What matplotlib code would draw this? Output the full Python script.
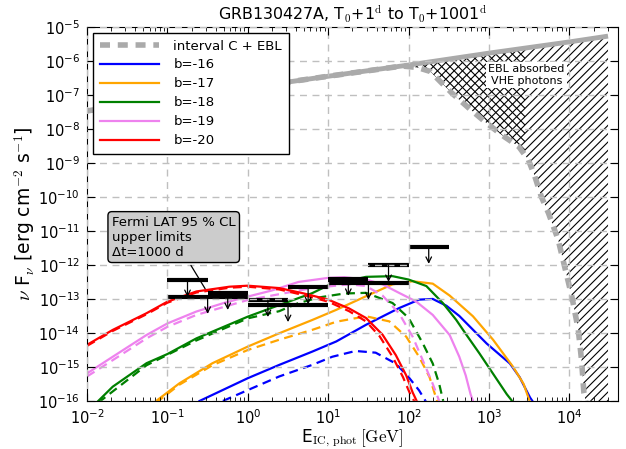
import matplotlib
matplotlib.use('Agg')
import matplotlib.pyplot as plt
import numpy as np
from matplotlib.ticker import LogLocator, NullLocator, NullFormatter
from matplotlib.patches import Rectangle, FancyArrowPatch

plt.rcParams['font.family'] = 'DejaVu Sans'
plt.rcParams['mathtext.fontset'] = 'cm'
plt.rcParams['hatch.linewidth'] = 0.8

# ---- data (log10 E [GeV], log10 nuFnu [erg cm^-2 s^-1]) ----
# interval C (intrinsic) and with EBL absorption
gray_lx = [-2, -1, 0, 1, 2, 3, 4, 4.48]
gray_ly = [-7.47, -7.13, -6.79, -6.45, -6.12, -5.77, -5.44, -5.27]
ebl_lx = [-2, -1, 0, 1, 1.92, 2.105, 2.27, 2.395, 2.54, 2.75, 2.95, 3.16, 3.37,
          3.49, 3.57, 3.65, 3.74, 3.86, 3.94, 4.03, 4.11, 4.15, 4.18, 4.21]
ebl_ly = [-7.47, -7.13, -6.79, -6.45, -6.15, -6.19, -6.31, -6.61, -6.95, -7.39, -7.79,
          -8.18, -8.52, -8.91, -9.40, -9.99, -10.48, -11.26, -12.05, -12.93, -13.91,
          -14.79, -15.77, -16.1]
xhatch_edge = 2.8e3

labels = ['b=-16', 'b=-17', 'b=-18', 'b=-19', 'b=-20']
colors = ['blue', 'orange', 'green', 'violet', 'red']

# solid: intrinsic IC spectrum
sol_lx = [
    [-0.6, 0.0, 0.39, 0.8, 1.1, 1.47, 1.88, 2.13, 2.3, 2.47, 2.63, 2.97, 3.26, 3.38, 3.51, 3.55],
    [-1.14, -0.85, -0.44, 0.0, 0.39, 0.8, 1.1, 1.47, 1.8, 2.05, 2.3, 2.51, 2.8, 3.05, 3.3, 3.43, 3.51],
    [-1.86, -1.68, -1.26, -1.0, -0.64, 0.0, 0.39, 0.8, 1.0, 1.47, 1.8, 2.0, 2.22, 2.425, 2.59,
     2.72, 2.88, 3.05, 3.22, 3.3],
    [-2, -1.68, -1.26, -1.0, -0.64, -0.3, 0.0, 0.3, 0.63, 1.0, 1.2, 1.47, 1.675, 1.88, 2.09,
     2.3, 2.51, 2.63, 2.71, 2.77, 2.8],
    [-2, -1.68, -1.26, -1.0, -0.64, -0.23, 0.0, 0.39, 0.7, 1.0, 1.26, 1.47, 1.675, 1.84, 1.97,
     2.05, 2.11],
]
sol_ly = [
    [-16.0, -15.33, -14.94, -14.55, -14.25, -13.76, -13.27, -13.02, -13.0, -13.2, -13.5, -14.31,
     -14.9, -15.3, -15.9, -16.04],
    [-16.0, -15.48, -14.89, -14.4, -14.01, -13.62, -13.32, -12.92, -12.57, -12.48, -12.55, -12.9,
     -13.51, -14.2, -15.0, -15.5, -16.04],
    [-16.0, -15.58, -14.89, -14.62, -14.16, -13.52, -13.18, -12.83, -12.6, -12.35, -12.33, -12.43,
     -12.62, -13.12, -13.61, -14.06, -14.6, -15.2, -15.8, -16.04],
    [-15.19, -14.70, -14.06, -13.72, -13.37, -13.12, -12.93, -12.75, -12.50, -12.38, -12.36, -12.43,
     -12.57, -12.82, -13.07, -13.47, -14.06, -14.70, -15.25, -15.8, -16.0],
    [-14.35, -13.91, -13.42, -13.08, -12.78, -12.64, -12.61, -12.68, -12.84, -13.02, -13.28, -13.56,
     -14.05, -14.65, -15.25, -15.75, -16.05],
]
# dashed: EBL absorbed
abs_lx = [
    [-0.31, 0.0, 0.39, 0.8, 1.05, 1.34, 1.59, 1.84, 2.0, 2.13, 2.22],
    [-1.14, -0.85, -0.44, 0.0, 0.39, 0.8, 1.1, 1.47, 1.76, 1.97, 2.13, 2.26, 2.34, 2.36],
    [-1.86, -1.26, -0.64, 0.0, 0.39, 0.63, 0.9, 1.2, 1.47, 1.8, 2.0, 2.175, 2.3, 2.38, 2.43],
    [-2, -1.68, -1.26, -1.0, -0.64, 0.0, 0.39, 0.8, 1.26, 1.47, 1.675, 1.88, 2.05, 2.175, 2.3, 2.38],
    [-2, -1.68, -1.26, -1.0, -0.64, -0.23, 0.0, 0.39, 0.7, 1.0, 1.26, 1.47, 1.64, 1.80, 1.93,
     2.02, 2.08],
]
abs_ly = [
    [-16.0, -15.68, -15.28, -14.94, -14.7, -14.53, -14.58, -14.9, -15.3, -15.69, -16.04],
    [-16.05, -15.52, -14.95, -14.5, -14.2, -13.91, -13.67, -13.51, -13.66, -14.11, -14.7, -15.3,
     -15.9, -16.04],
    [-16.05, -14.95, -14.22, -13.57, -13.36, -13.12, -12.95, -12.84, -12.82, -13.12, -13.56, -14.3,
     -14.9, -15.5, -16.0],
    [-15.28, -14.80, -14.16, -13.82, -13.47, -13.03, -12.86, -12.68, -12.57, -12.62, -12.9, -13.42,
     -14.11, -14.8, -15.5, -16.0],
    [-14.38, -13.94, -13.45, -13.11, -12.81, -12.67, -12.64, -12.72, -12.89, -13.08, -13.36, -13.66,
     -14.1, -14.7, -15.3, -15.8, -16.05],
]

# Fermi LAT 95% CL upper limits (energy bins in GeV, flux)
ul_lo = [0.1, 0.1, 0.316, 1, 1, 3.16, 10, 10, 31.6, 100]
ul_hi = [0.316, 1, 1, 3.16, 10, 10, 31.6, 100, 100, 316]
ul_y = [3.6e-13, 1.15e-13, 1.5e-13, 9.3e-14, 6.6e-14, 2.2e-13, 3.9e-13, 3.0e-13, 1.0e-12, 3.4e-12]

fig = plt.figure(figsize=(6.26, 4.49), dpi=100)
ax = fig.add_axes([0.139, 0.107, 0.848, 0.833])
ax.set_xscale('log')
ax.set_yscale('log')

gx = np.power(10.0, gray_lx)
gy = np.power(10.0, gray_ly)
ex = np.power(10.0, ebl_lx)
ey = np.power(10.0, ebl_ly)

# EBL absorbed region
px = np.concatenate([gx, [gx[-1]], ex[::-1]])
py = np.concatenate([gy, [ey[-1]], ey[::-1]])
ax.fill(px, py, facecolor='none', edgecolor='k', hatch='////', linewidth=0, zorder=1)
cross = ax.fill(px, py, facecolor='none', edgecolor='k', hatch='\\\\\\\\', linewidth=0, zorder=1)[0]
clip = Rectangle((1e-3, 1e-20), xhatch_edge - 1e-3, 1.0, transform=ax.transData)
cross.set_clip_path(clip)

ax.plot(gx, gy, color='#aaaaaa', lw=3.5, solid_capstyle='butt', zorder=2)
ax.plot(ex, ey, color='#aaaaaa', lw=4, dashes=(1.8, 1.4), zorder=2,
        label='interval C + EBL')

for i in range(len(labels)):
    ax.plot(np.power(10.0, sol_lx[i]), np.power(10.0, sol_ly[i]), color=colors[i], lw=1.6,
            label=labels[i])
    ax.plot(np.power(10.0, abs_lx[i]), np.power(10.0, abs_ly[i]), color=colors[i], lw=1.6,
            dashes=(4, 2.5))

ax.hlines(ul_y, ul_lo, ul_hi, colors='k', lw=3, zorder=2)
for lo, hi, y in zip(ul_lo, ul_hi, ul_y):
    xc = np.sqrt(lo * hi)
    ax.add_patch(FancyArrowPatch((xc, y), (xc, y / 10**0.5), arrowstyle='->', color='k',
                                 lw=0.9, shrinkA=0, shrinkB=0, mutation_scale=10, zorder=3))

ax.annotate('Fermi LAT 95 % CL\nupper limits\nΔt=1000 d', xy=(0.307, 1.7e-13),
            xytext=(0.0204, 6.6e-12), ha='left', va='center', fontsize=9.5,
            bbox=dict(boxstyle='round,pad=0.3', fc='0.8', ec='k'),
            arrowprops=dict(arrowstyle='-', color='k', lw=0.9))

ax.text(2900, 3.9e-7, 'EBL absorbed\nVHE photons', ha='center', va='center', fontsize=8,
        multialignment='center', bbox=dict(fc='white', ec='none', pad=1.5), zorder=4)

ax.set_xlim(1e-2, 4e4)
ax.set_ylim(1e-16, 1e-5)
ax.xaxis.set_major_locator(LogLocator(base=10, numticks=20))
ax.xaxis.set_minor_locator(LogLocator(base=10, subs=np.arange(2, 10), numticks=20))
ax.xaxis.set_minor_formatter(NullFormatter())
ax.yaxis.set_major_locator(LogLocator(base=10, numticks=20))
ax.yaxis.set_minor_locator(NullLocator())
ax.tick_params(which='both', direction='in', top=True, right=True, labelsize=10.5)
ax.tick_params(which='major', length=6, pad=5)
ax.tick_params(which='minor', length=3)
ax.set_axisbelow(False)
ax.grid(True, which='major', color='0.75', lw=1, linestyle=(0, (5, 4)))

ax.set_title(r'GRB130427A, T$_0$+1$^{\rm d}$ to T$_0$+1001$^{\rm d}$', fontsize=11.4, pad=5)
ax.set_xlabel(r'E$_{\rm IC,\,phot}\,[\rm GeV]$', fontsize=12.3, labelpad=1)
ax.set_ylabel(r'$\nu$ F$_\nu$ [erg cm$^{-2}$ s$^{-1}$]', fontsize=13.5, labelpad=1)

leg = ax.legend(loc='upper left', bbox_to_anchor=(0.0113, 0.984), borderaxespad=0,
                fontsize=9.5, handlelength=4.5, handletextpad=1.1, labelspacing=0.45,
                borderpad=0.5, fancybox=False, framealpha=1, edgecolor='k')
leg.get_frame().set_linewidth(1.0)
leg.set_zorder(5)

fig.savefig('out.png', dpi=100)
